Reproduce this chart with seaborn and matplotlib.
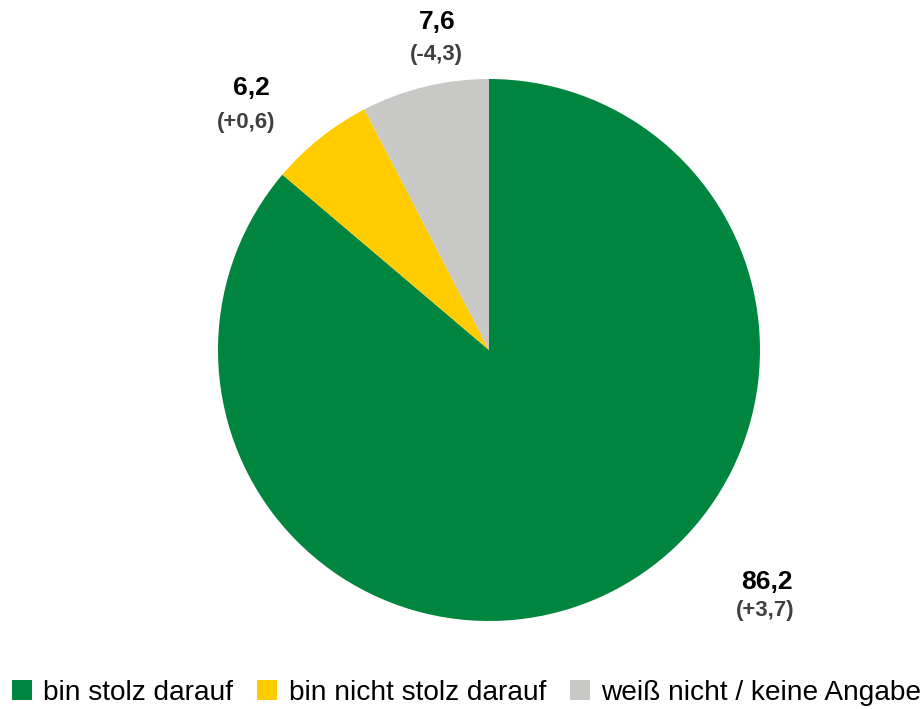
import numpy as np
import matplotlib
matplotlib.use("Agg")
import matplotlib.pyplot as plt
from matplotlib.patches import Patch
import seaborn as sns

sns.set_theme(style="white")
plt.rcParams['font.family'] = ['Liberation Sans', 'DejaVu Sans']

# data
categories = ['bin stolz darauf', 'bin nicht stolz darauf', 'weiß nicht / keine Angabe']
values = [86.2, 6.2, 7.6]
changes = ['(+3,7)', '(+0,6)', '(-4,3)']
colors = ['#00853F', '#FFCC00', '#C8C8C6']

# label positions (pie radius = 1)
label_pos = [(1.026, -0.856), (-0.878, 0.967), (-0.190, 1.210)]
change_pos = [(1.018, -0.963), (-0.897, 0.841), (-0.196, 1.092)]

W, H = 924, 709
cx, cy, r = 489, 350, 271
fig = plt.figure(figsize=(W / 100, H / 100), dpi=100)
ax = fig.add_axes([(cx - r) / W, (H - cy - r) / H, 2 * r / W, 2 * r / H])

ax.pie(values, colors=colors, startangle=90, counterclock=False, radius=1,
       wedgeprops={'linewidth': 0})
ax.set_xlim(-1, 1)
ax.set_ylim(-1, 1)
ax.axis('off')

for v, ch, (lx, ly), (chx, chy) in zip(values, changes, label_pos, change_pos):
    ax.text(lx, ly, f'{v:.1f}'.replace('.', ','), ha='center', va='center',
            fontsize=19, fontweight='bold', color='black')
    ax.text(chx, chy, ch, ha='center', va='center',
            fontsize=16, fontweight='bold', color='#404040')

handles = [Patch(facecolor=c, edgecolor='none') for c in colors]
fig.legend(handles, categories, loc='center', bbox_to_anchor=(0.505, 0.023),
           ncol=3, frameon=False, fontsize=20.2, handlelength=0.72, handleheight=0.72,
           handletextpad=0.4, columnspacing=0.85, borderpad=0, labelcolor='black')

fig.savefig('out.png', dpi=100)
